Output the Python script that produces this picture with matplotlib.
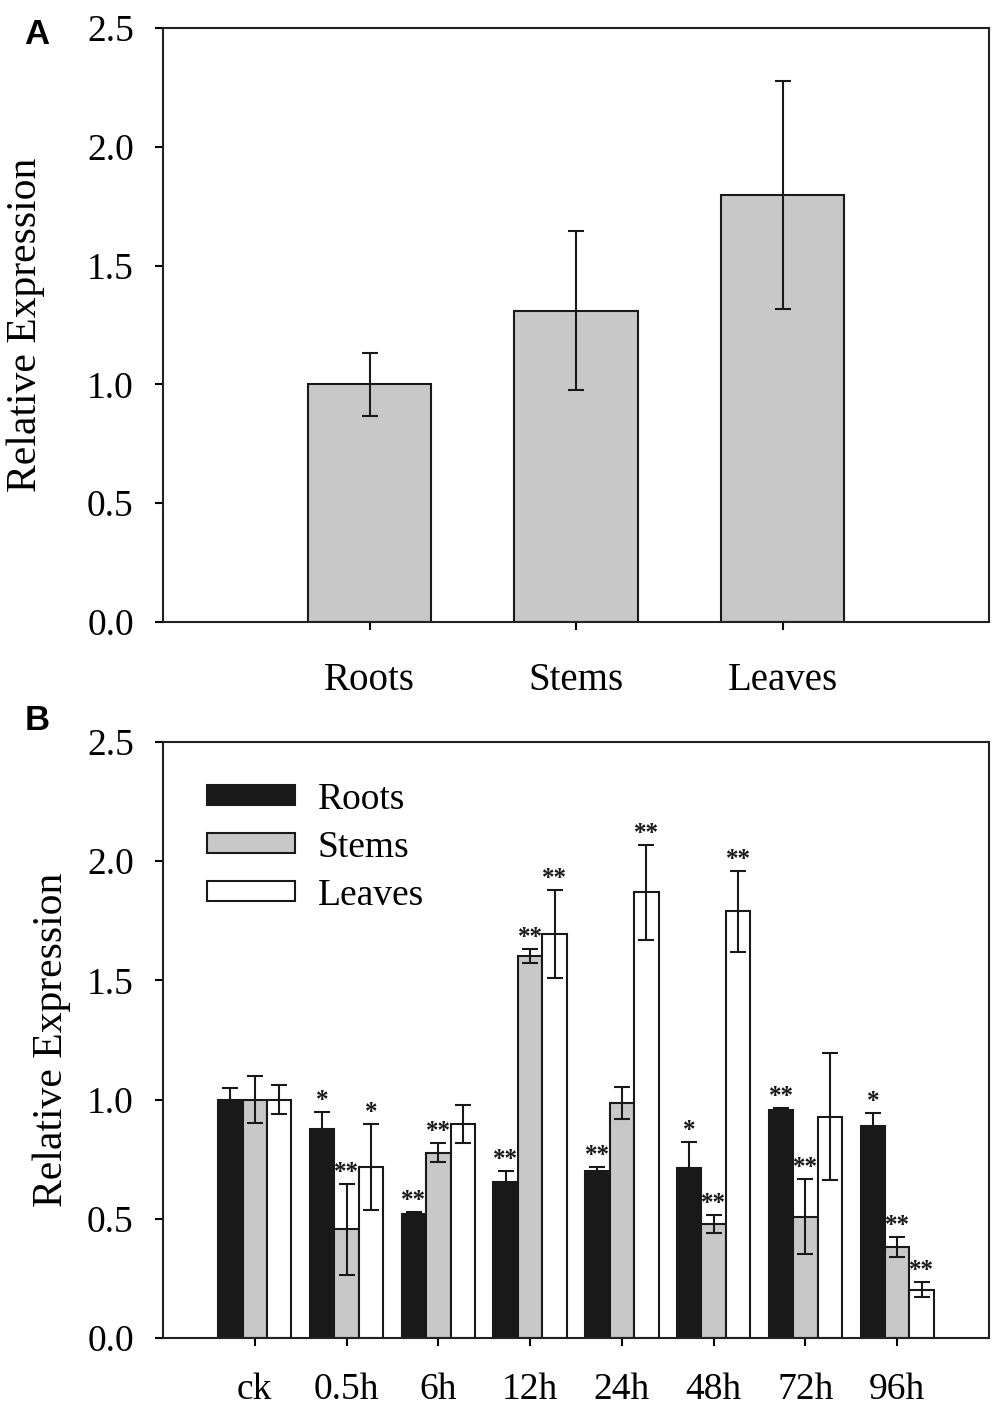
import numpy as np
import matplotlib
matplotlib.use('Agg')
import matplotlib.pyplot as plt

plt.rcParams['font.family'] = ['Liberation Serif', 'DejaVu Serif']

# panel A: tissue expression
tissues = ['Roots', 'Stems', 'Leaves']
tissue_mean = [1.0, 1.31, 1.797]
tissue_err = [0.132, 0.335, 0.48]

# panel B: time course
times = ['ck', '0.5h', '6h', '12h', '24h', '48h', '72h', '96h']
roots_mean = [1.0, 0.878, 0.519, 0.654, 0.699, 0.714, 0.956, 0.888]
roots_err = [0.05, 0.07, 0.01, 0.045, 0.018, 0.109, 0.007, 0.057]
stems_mean = [1.0, 0.456, 0.777, 1.603, 0.985, 0.479, 0.508, 0.382]
stems_err = [0.10, 0.19, 0.04, 0.03, 0.068, 0.037, 0.157, 0.043]
leaves_mean = [1.0, 0.716, 0.899, 1.695, 1.87, 1.789, 0.929, 0.202]
leaves_err = [0.06, 0.18, 0.08, 0.185, 0.199, 0.17, 0.266, 0.032]
roots_sig = ['', '*', '**', '**', '**', '*', '**', '*']
stems_sig = ['', '**', '**', '**', '', '**', '**', '**']
leaves_sig = ['', '*', '', '**', '**', '**', '', '**']

BLACK = '#191919'
GREY = '#c8c8c8'
LW = 1.5

fig = plt.figure(figsize=(10, 14.09), dpi=100)
axA = fig.add_axes([0.163, 0.5586, 0.826, 0.4215])
axB = fig.add_axes([0.163, 0.0504, 0.826, 0.4230])


def style_axis(ax):
    for s in ax.spines.values():
        s.set_linewidth(LW)
        s.set_color('#222222')
    ax.set_ylim(0, 2.5)
    ax.set_yticks([0, 0.5, 1.0, 1.5, 2.0, 2.5])
    ax.set_yticklabels(['0.0', '0.5', '1.0', '1.5', '2.0', '2.5'])
    ax.tick_params(axis='y', direction='out', length=6, width=LW, pad=15, labelsize=27)
    ax.tick_params(axis='x', direction='out', length=6, width=LW, pad=19, labelsize=27)
    ax.tick_params(top=False, right=False)


# ---- A ----
xa = np.arange(len(tissues))
axA.bar(xa, tissue_mean, width=0.6, color=GREY, edgecolor=BLACK, linewidth=LW, zorder=2)
axA.errorbar(xa, tissue_mean, yerr=tissue_err, fmt='none', ecolor=BLACK,
             elinewidth=LW, capsize=6, capthick=LW, zorder=3)
axA.set_xlim(-1, 3)
axA.set_xticks(xa)
axA.set_xticklabels(tissues)
style_axis(axA)
axA.tick_params(axis='x', pad=23, labelsize=28)

# ---- B ----
xb = np.arange(len(times))
w = 0.8 / 3
series = [
    ('Roots', roots_mean, roots_err, roots_sig, BLACK, -w),
    ('Stems', stems_mean, stems_err, stems_sig, GREY, 0),
    ('Leaves', leaves_mean, leaves_err, leaves_sig, 'white', w),
]
for name, m, e, sig, col, off in series:
    axB.bar(xb + off, m, width=w, color=col, edgecolor=BLACK, linewidth=LW,
            label=name, zorder=2)
    axB.errorbar(xb + off, m, yerr=e, fmt='none', ecolor=BLACK,
                 elinewidth=LW, capsize=6, capthick=LW, zorder=3)
    for xi, mi, ei, s in zip(xb + off, m, e, sig):
        if s:
            axB.annotate(s, (xi, mi + ei), xytext=(0, 0), textcoords='offset points',
                         ha='center', va='bottom', fontsize=18, fontweight='bold',
                         color=BLACK, zorder=4)

axB.set_xlim(-1, 8)
axB.set_xticks(xb)
axB.set_xticklabels(times)
style_axis(axB)

leg = axB.legend(loc='upper left', bbox_to_anchor=(0.035, 0.958), frameon=False,
                 fontsize=27, handlelength=2.35, handleheight=0.45,
                 handletextpad=0.6, labelspacing=0.36, borderaxespad=0)

# y labels and panel letters
fig.text(26 / 1000, 1 - 325 / 1409, 'Relative Expression', rotation=90,
         ha='center', va='center', fontsize=30)
fig.text(52 / 1000, 1 - 1040 / 1409, 'Relative Expression', rotation=90,
         ha='center', va='center', fontsize=30)
fig.text(37 / 1000, 1 - 35 / 1409, 'A', ha='center', va='center', fontsize=25,
         fontweight='bold', family=['Liberation Sans', 'DejaVu Sans'])
fig.text(37 / 1000, 1 - 721 / 1409, 'B', ha='center', va='center', fontsize=25,
         fontweight='bold', family=['Liberation Sans', 'DejaVu Sans'])

fig.savefig('out.png', dpi=100)
